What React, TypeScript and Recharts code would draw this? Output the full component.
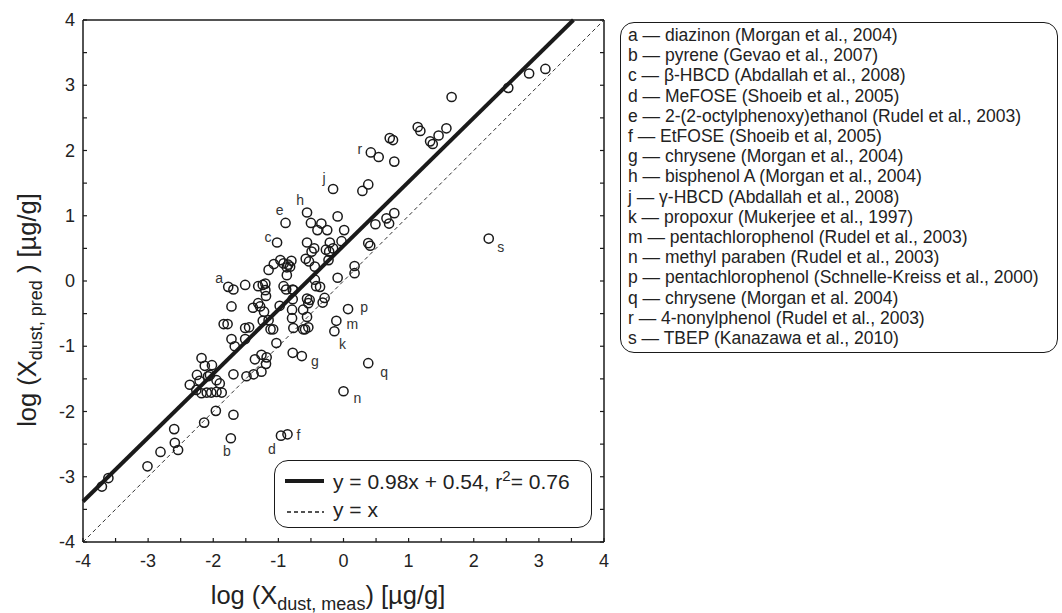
import { ReferenceLine, Scatter, ScatterChart, XAxis, YAxis } from "recharts";

const FONT = '"Liberation Sans", Arial, Helvetica, sans-serif';
const INK = "#1a1a1a";

// log10 of measured and predicted dust concentrations, one pair per compound
const measured = [
  3.1, 2.85, 2.53, 1.66, 1.58, 1.46, 1.37, 1.33, 1.18, 1.14, 0.78, 0.76, 0.71, 0.54, 0.42, 0.38,
  0.29, -0.16, 0.78, 0.7, 0.66, 0.49, 0.41, 0.38, 0.17, 0.17, 2.23, -0.56, -0.89, -1.02, -0.5,
  -0.34, -0.4, -0.25, -0.09, 0.01, -0.56, -0.45, -0.49, -0.21, -0.27, -0.16, -0.03, -0.23, -0.58,
  -0.53, -0.44, -0.09, -1.07, -1.15, -0.92, -0.87, -0.8, -0.82, -0.87, -0.97, -0.85, -1.51, -1.31,
  -1.2, -1.2, -1.19, -0.92, -0.78, -0.88, -0.44, -0.42, -0.36, -1.39, -1.31, -0.98, -0.56, -0.52,
  -0.54, -0.29, -0.32, -0.79, -0.62, 0.07, -1.77, -1.69, -1.72, -1.84, -1.78, -1.72, -1.67, -1.51,
  -1.51, -1.45, -1.28, -1.22, -1.24, -1.15, -1.12, -1.08, -1.24, -1.03, -0.78, -0.64, -1.36, -1.26,
  -1.18, -1.19, -1.26, -1.49, -1.38, -1.69, -2.18, -2.13, -2.02, -2.25, -2.08, -2.36, -2.21, -1.95,
  -1.9, -0.77, -0.79, -0.77, -0.59, -0.54, -0.56, -0.22, -0.11, -0.14, 0.38, 0.0, -0.62, -0.78,
  -3.71, -3.61, -3.01, -2.81, -2.6, -2.59, -2.54, -2.14, -1.96, -1.69, -1.73, -0.96, -0.86, -2.26,
  -2.18, -2.1, -2.03, -1.95, -1.87, -2.05,
];
const predicted = [
  3.25, 3.18, 2.96, 2.82, 2.34, 2.23, 2.1, 2.14, 2.3, 2.36, 1.83, 2.16, 2.19, 1.9, 1.97, 1.48,
  1.38, 1.41, 1.04, 0.88, 0.96, 0.87, 0.54, 0.58, 0.23, 0.12, 0.65, 1.05, 0.89, 0.59, 0.89, 0.88,
  0.78, 0.78, 0.99, 0.78, 0.59, 0.5, 0.45, 0.59, 0.48, 0.5, 0.61, 0.32, 0.34, 0.3, 0.22, 0.05,
  0.26, 0.17, 0.27, 0.21, 0.31, 0.22, 0.09, 0.32, 0.25, -0.06, -0.08, -0.04, -0.14, -0.23, -0.08,
  -0.13, -0.13, 0.02, -0.08, -0.09, -0.41, -0.34, -0.38, -0.27, -0.29, -0.34, -0.26, -0.33, -0.44,
  -0.44, -0.43, -0.09, -0.13, -0.39, -0.66, -0.66, -0.89, -1.0, -0.89, -0.72, -0.71, -0.39, -0.47,
  -0.61, -0.6, -0.74, -0.74, -0.06, -0.95, -1.1, -1.15, -1.2, -1.13, -1.17, -1.27, -1.39, -1.46,
  -1.43, -1.43, -1.18, -1.3, -1.29, -1.44, -1.46, -1.59, -1.53, -1.52, -1.57, -0.14, -0.57, -0.72,
  -0.74, -0.71, -0.55, 0.45, -0.61, -0.77, -1.26, -1.69, -0.74, -0.28, -3.15, -3.02, -2.84, -2.62,
  -2.27, -2.48, -2.59, -2.17, -1.99, -2.05, -2.41, -2.37, -2.35, -1.67, -1.72, -1.71, -1.71, -1.7,
  -1.71, -1.44,
];

// letters marking the outliers named in the side legend
const markNames = ["a", "b", "c", "d", "e", "f", "g", "h", "j", "k", "m", "n", "p", "q", "r", "s"];
const markX = [-1.77, -1.73, -1.02, -0.96, -0.89, -0.86, -0.64, -0.56, -0.16, -0.14, -0.11, 0.0, 0.07, 0.38, 0.42, 2.23];
const markY = [-0.09, -2.41, 0.59, -2.37, 0.89, -2.35, -1.15, 1.05, 1.41, -0.77, -0.61, -1.69, -0.43, -1.26, 1.97, 0.65];
// pixel nudges of each letter from its circle
const markOffset: Record<string, [number, number]> = {
  a: [-9, -9], b: [-4, 13], c: [-9, -6], d: [-9, 13], e: [-6, -13], f: [11, 1], g: [13, 5],
  h: [-7, -12], j: [-9, -11], k: [8, 13], m: [16, 3], n: [14, 7], p: [16, -2], q: [16, 9],
  r: [-11, -3], s: [12, 8],
};

const legendItems = [
  "a — diazinon (Morgan et al., 2004)",
  "b — pyrene (Gevao et al., 2007)",
  "c — β-HBCD (Abdallah et al., 2008)",
  "d — MeFOSE (Shoeib et al., 2005)",
  "e — 2-(2-octylphenoxy)ethanol (Rudel et al., 2003)",
  "f — EtFOSE (Shoeib et al, 2005)",
  "g — chrysene (Morgan et al., 2004)",
  "h — bisphenol A (Morgan et al., 2004)",
  "j — γ-HBCD (Abdallah et al., 2008)",
  "k — propoxur (Mukerjee et al., 1997)",
  "m — pentachlorophenol (Rudel et al., 2003)",
  "n — methyl paraben (Rudel et al., 2003)",
  "p — pentachlorophenol (Schnelle-Kreiss et al., 2000)",
  "q — chrysene (Morgan et al. 2004)",
  "r — 4-nonylphenol (Rudel et al., 2003)",
  "s — TBEP (Kanazawa et al., 2010)",
];

const axisTicks = [-4, -3.5, -3, -2.5, -2, -1.5, -1, -0.5, 0, 0.5, 1, 1.5, 2, 2.5, 3, 3.5, 4];
const domain: [number, number] = [-4, 4];

// fitted regression y = 0.98x + 0.54
const slope = 0.98;
const intercept = 0.54;

const points = measured.map((x, i) => ({ x, y: predicted[i] }));
const marks = markNames.map((name, i) => ({ name, x: markX[i], y: markY[i] }));

type Side = "bottom" | "left" | "top" | "right";

/** Inward tick marks, labels only on whole numbers of the outer axes. */
function AxisTick({ x, y, payload, side }: any) {
  const v = payload.value as number;
  const major = Number.isInteger(v);
  const len = 4;
  const common = { stroke: INK, strokeWidth: 1.2 };
  const txt = { fontSize: 18, fill: "#222", fontFamily: FONT };
  if (side === "bottom")
    return (
      <g>
        <line x1={x} y1={y} x2={x} y2={y - len} {...common} />
        {major && (
          <text x={x} y={y + 19} textAnchor="middle" dominantBaseline="central" {...txt}>
            {v}
          </text>
        )}
      </g>
    );
  if (side === "left")
    return (
      <g>
        <line x1={x} y1={y} x2={x + len} y2={y} {...common} />
        {major && (
          <text x={x - 8} y={y} textAnchor="end" dominantBaseline="central" {...txt}>
            {v}
          </text>
        )}
      </g>
    );
  if (side === "top") return <line x1={x} y1={y} x2={x} y2={y + len} {...common} />;
  return <line x1={x} y1={y} x2={x - len} y2={y} {...common} />;
}

const tickFor = (side: Side) => (p: any) => <AxisTick {...p} side={side} />;

function OpenCircle({ cx, cy }: any) {
  return <circle cx={cx} cy={cy} r={4.6} fill="none" stroke={INK} strokeWidth={1.5} />;
}

function MarkLetter({ cx, cy, payload }: any) {
  const [dx, dy] = markOffset[payload.name];
  return (
    <text
      x={cx + dx}
      y={cy + dy}
      textAnchor="middle"
      dominantBaseline="central"
      fontSize={14}
      fill="#333"
      fontFamily={FONT}
    >
      {payload.name}
    </text>
  );
}

export default function App() {
  const axisLine = { stroke: INK, strokeWidth: 1.5 };
  const shared = {
    type: "number" as const,
    domain,
    ticks: axisTicks,
    tickSize: 0,
    tickMargin: 0,
    tickLine: false,
    axisLine,
    interval: 0 as const,
    allowDataOverflow: true,
  };
  return (
    <div
      style={{
        position: "absolute",
        left: 0,
        top: 0,
        width: 1062,
        height: 613,
        background: "#fff",
        fontFamily: FONT,
        color: "#222",
      }}
    >
      <ScatterChart width={1062} height={613} margin={{ top: 10, right: 448, bottom: 41, left: 43 }}>
        <XAxis xAxisId="b" dataKey="x" height={30} tick={tickFor("bottom")} {...shared} />
        <XAxis xAxisId="t" orientation="top" height={10} tick={tickFor("top")} {...shared} />
        <YAxis yAxisId="l" dataKey="y" width={40} tick={tickFor("left")} {...shared} />
        <YAxis yAxisId="r" orientation="right" width={10} tick={tickFor("right")} {...shared} />
        <ReferenceLine
          xAxisId="b"
          yAxisId="l"
          segment={[
            { x: -4, y: -4 },
            { x: 4, y: 4 },
          ]}
          stroke="#333"
          strokeWidth={1}
          strokeDasharray="4 3"
        />
        <ReferenceLine
          xAxisId="b"
          yAxisId="l"
          segment={[
            { x: -4, y: slope * -4 + intercept },
            { x: (4 - intercept) / slope, y: 4 },
          ]}
          stroke={INK}
          strokeWidth={4}
        />
        <Scatter xAxisId="b" yAxisId="l" data={points} shape={<OpenCircle />} isAnimationActive={false} />
        <Scatter xAxisId="b" yAxisId="l" data={marks} shape={<MarkLetter />} isAnimationActive={false} />
      </ScatterChart>

      {/* fit legend inside the plot */}
      <div
        style={{
          position: "absolute",
          left: 274,
          top: 460,
          width: 316,
          height: 66,
          border: `1.5px solid ${INK}`,
          borderRadius: 14,
          background: "#fff",
          fontSize: 21,
        }}
      >
        <svg width={50} height={66} style={{ position: "absolute", left: 0, top: 0 }}>
          <line x1={10} y1={20} x2={49} y2={20} stroke={INK} strokeWidth={4} />
          <line x1={12} y1={51} x2={49} y2={51} stroke={INK} strokeWidth={1.3} strokeDasharray="4 3" />
        </svg>
        <div style={{ position: "absolute", left: 58, top: 6, whiteSpace: "nowrap" }}>
          y = 0.98x + 0.54, r<sup style={{ fontSize: 15, verticalAlign: 8 }}>2</sup>= 0.76
        </div>
        <div style={{ position: "absolute", left: 58, top: 37, whiteSpace: "nowrap" }}>y = x</div>
      </div>

      {/* compound legend */}
      <div
        style={{
          position: "absolute",
          left: 620,
          top: 22,
          width: 438,
          height: 331,
          border: `1.5px solid ${INK}`,
          borderRadius: 14,
          boxSizing: "border-box",
          paddingTop: 2,
          paddingLeft: 7,
          fontSize: 17.5,
          lineHeight: "20.2px",
          whiteSpace: "nowrap",
        }}
      >
        {legendItems.map((s) => (
          <div key={s}>{s}</div>
        ))}
      </div>

      {/* axis titles */}
      <div
        style={{
          position: "absolute",
          left: 328,
          top: 598,
          transform: "translate(-50%, -50%)",
          fontSize: 25.5,
          whiteSpace: "nowrap",
        }}
      >
        log (X<sub style={{ fontSize: 18 }}>dust, meas</sub>) [µg/g]
      </div>
      <div
        style={{
          position: "absolute",
          left: 30,
          top: 310,
          transform: "translate(-50%, -50%) rotate(-90deg)",
          fontSize: 25.5,
          whiteSpace: "nowrap",
        }}
      >
        log (X<sub style={{ fontSize: 18 }}>dust, pred</sub> ) [µg/g]
      </div>
    </div>
  );
}
